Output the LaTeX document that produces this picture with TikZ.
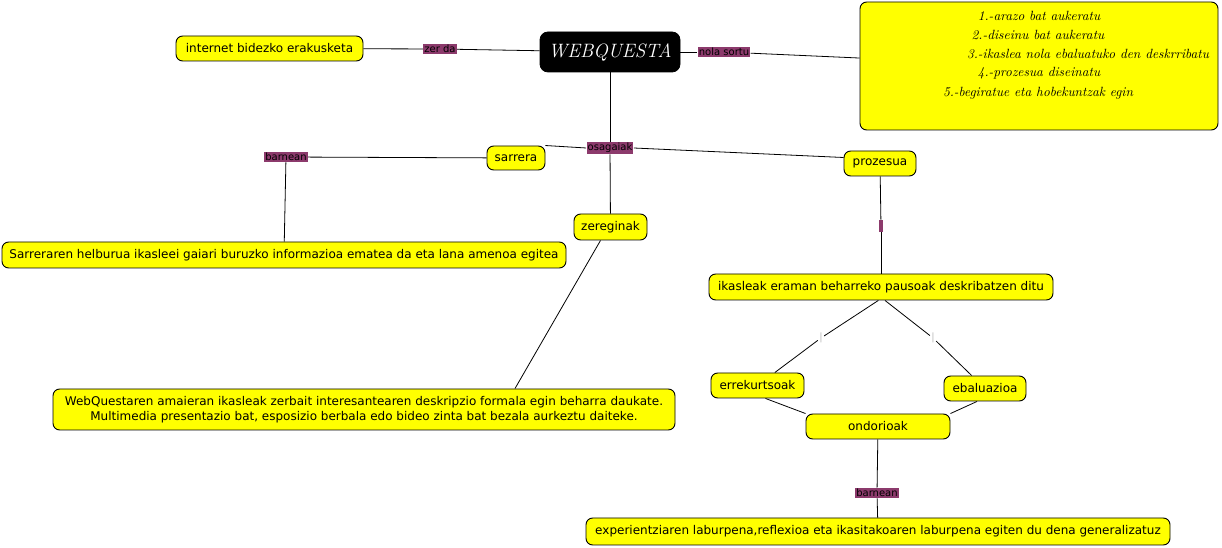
\documentclass[tikz,border=0pt]{standalone}
\usepackage{fontspec}
\setsansfont{DejaVu Sans}
\usetikzlibrary{positioning}
\definecolor{cmapyellow}{RGB}{255,255,0}
\definecolor{linkpurple}{RGB}{140,58,108}
\begin{document}
\begin{tikzpicture}[x=0.75pt,y=-0.75pt,line width=0.6pt,concept/.style={draw=black,line width=0.7pt,rounded corners=5pt,fill=cmapyellow,inner sep=0pt,align=center,font=\sffamily\fontsize{9}{11.25}\selectfont},wd/.style={minimum width=#1*0.75pt},ht/.style={minimum height=#1*0.75pt},link/.style={fill=linkpurple,text=black,inner sep=0.8pt,font=\sffamily\fontsize{7.5}{8.5}\selectfont},gap/.style={fill=white,text=black!25,inner sep=0.8pt,font=\sffamily\fontsize{7.5}{8.5}\selectfont},hand/.style={inner sep=0pt,font=\itshape\fontsize{10}{12}\selectfont}]
\useasboundingbox (0,0) rectangle (1222,548);
\node[draw=black,fill=black,text=white,rounded corners=6pt,wd=140,ht=40,font=\itshape\fontsize{14.5}{16}\selectfont] (webquesta) at (610,52) {WEBQUESTA};
\node[concept,wd=187,ht=25] (internet) at (269.5,48.5) {internet bidezko erakusketa};
\node[link] (zerda) at (440,49) {zer da};
\node[link] (nolasortu) at (724,52) {nola sortu};
\node[concept,wd=358,ht=128] (steps) at (1039,66) {};
\node[hand] (task1) at (1039,16) {1.-arazo bat aukeratu};
\node[hand] (task2) at (1038,35) {2.-diseinu bat aukeratu};
\node[hand] (task3) at (1088,54) {3.-ikaslea nola ebaluatuko den deskrribatu};
\node[hand] (task4) at (1039,73) {4.-prozesua diseinatu};
\node[hand] (task5) at (1038,93) {5.-begiratue eta hobekuntzak egin};
\node[link] (osagaiak) at (610,148) {osagaiak};
\node[concept,wd=58,ht=24] (sarrera) at (516,158) {sarrera};
\node[link] (barnean1) at (286,157) {barnean};
\node[concept,wd=564,ht=26] (sarreraren) at (284,255) {Sarreraren helburua ikasleei gaiari buruzko informazioa ematea da eta lana amenoa egitea};
\node[concept,wd=73,ht=26] (zereginak) at (610.5,227) {zereginak};
\node[concept,wd=622,ht=41] (webquestaren) at (364,409.5) {WebQuestaren amaieran ikasleak zerbait interesantearen deskripzio formala egin beharra daukate.\\Multimedia presentazio bat, esposizio berbala edo bideo zinta bat bezala aurkeztu daiteke.};
\node[concept,wd=72,ht=25] (prozesua) at (880,163.5) {prozesua};
\node[link,inner xsep=0pt,text=linkpurple] (bar1) at (881,226) {|};
\node[concept,wd=344,ht=26] (ikasleak) at (881,287) {ikasleak eraman beharreko pausoak deskribatzen ditu};
\node[gap] (bar2) at (821,338) {|};
\node[gap] (bar3) at (933,338) {|};
\node[concept,wd=93,ht=25] (errekurtsoak) at (757.5,385.5) {errekurtsoak};
\node[concept,wd=82,ht=25] (ebaluazioa) at (985,388.5) {ebaluazioa};
\node[concept,wd=144,ht=25] (ondorioak) at (878,426.5) {ondorioak};
\node[link] (barnean2) at (877,493) {barnean};
\node[concept,wd=584,ht=27] (experientzia) at (878,531.5) {experientziaren laburpena,reflexioa eta ikasitakoaren laburpena egiten du dena generalizatuz};
\draw (internet) -- (zerda);
\draw (zerda) -- (webquesta);
\draw (webquesta) -- (nolasortu);
\draw (nolasortu) -- (steps);
\draw (webquesta) -- (osagaiak);
\draw (osagaiak.west) -- (sarrera.north east);
\draw (osagaiak) -- (zereginak);
\draw (osagaiak.east) -- ([yshift=4.5pt]prozesua.west);
\draw (sarrera) -- (barnean1);
\draw (barnean1) -- (sarreraren);
\draw ([xshift=-7.5pt]zereginak.south) -- ([xshift=113.25pt]webquestaren.north);
\draw (prozesua) -- (bar1);
\draw (bar1) -- (ikasleak);
\draw ([xshift=-2pt]ikasleak.south) -- (bar2);
\draw (bar2) -- (errekurtsoak);
\draw ([xshift=3pt]ikasleak.south) -- (bar3);
\draw (bar3) -- (ebaluazioa);
\draw ([xshift=6pt]errekurtsoak.south) -- (ondorioak.north west);
\draw ([xshift=-6pt]ebaluazioa.south) -- (ondorioak.north east);
\draw (ondorioak) -- (barnean2);
\draw (barnean2) -- (experientzia);
\end{tikzpicture}
\end{document}
